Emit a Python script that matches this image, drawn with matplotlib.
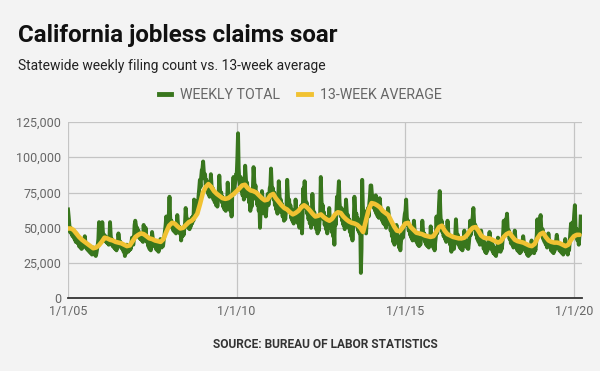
import numpy as np
import pandas as pd
import matplotlib
matplotlib.use("Agg")
import matplotlib.pyplot as plt
from matplotlib.lines import Line2D
from matplotlib.ticker import FuncFormatter

# ---- Data (weekly initial claims, thousands) ----
weekly_2005 = [63, 58, 52, 47, 50, 46, 48, 44, 47, 45, 42, 44, 40, 46, 42, 39, 41, 37, 40, 36, 38, 35, 39, 36, 38, 41,
               44, 39, 37, 35, 38, 34, 36, 33, 35, 32, 34, 31, 33, 36, 32, 31, 33, 30, 32, 35, 38, 42, 54, 46, 42, 45]
weekly_2006 = [44, 54, 47, 43, 45, 41, 44, 40, 43, 39, 42, 38, 41, 54, 45, 40, 42, 37, 40, 36, 39, 35, 38, 34, 37, 39,
               46, 42, 38, 40, 36, 38, 35, 37, 33, 36, 30, 34, 32, 38, 35, 33, 36, 34, 37, 35, 39, 43, 40, 38, 42, 52]
weekly_2007 = [55, 52, 47, 50, 45, 48, 43, 46, 42, 45, 41, 44, 40, 52, 46, 42, 50, 44, 40, 42, 37, 40, 35, 38, 34, 37,
               47, 43, 39, 41, 37, 39, 35, 38, 34, 36, 33, 35, 37, 42, 38, 36, 39, 37, 41, 44, 48, 52, 58, 50, 53, 56]
weekly_2008 = [60, 72, 58, 52, 55, 50, 53, 48, 52, 47, 51, 46, 50, 59, 53, 48, 51, 46, 49, 41, 47, 44, 49, 45, 50, 53,
               64, 58, 52, 56, 50, 55, 49, 54, 51, 57, 53, 58, 55, 70, 64, 60, 66, 63, 69, 66, 73, 78, 84, 79, 86, 91]
weekly_2009 = [92, 97, 90, 85, 88, 80, 84, 76, 82, 74, 79, 72, 77, 88, 80, 74, 78, 70, 75, 68, 73, 66, 71, 65, 70, 74,
               87, 78, 72, 75, 68, 72, 65, 70, 63, 68, 62, 66, 64, 82, 74, 68, 71, 62, 70, 58, 72, 78, 86, 74, 80, 84, 88]
weekly_2010 = [88, 100, 117, 92, 84, 80, 86, 76, 82, 73, 79, 70, 76, 94, 86, 78, 82, 72, 78, 68, 74, 62, 71, 65, 72, 78,
               93, 84, 76, 80, 70, 75, 66, 72, 62, 68, 50, 64, 60, 76, 70, 64, 68, 60, 66, 58, 64, 68, 74, 66, 70, 78]
weekly_2011 = [80, 92, 81, 74, 78, 70, 75, 66, 72, 63, 69, 60, 67, 83, 74, 66, 70, 61, 67, 58, 64, 55, 62, 56, 61, 66,
               84, 74, 66, 70, 61, 66, 57, 63, 55, 61, 53, 58, 56, 70, 63, 57, 60, 53, 58, 50, 56, 60, 66, 46, 62, 78]
weekly_2012 = [70, 83, 72, 64, 68, 60, 65, 56, 62, 53, 59, 50, 57, 74, 64, 57, 61, 52, 58, 49, 55, 46, 53, 48, 54, 60,
               86, 70, 62, 66, 56, 61, 52, 58, 49, 55, 46, 52, 50, 64, 56, 51, 54, 47, 52, 44, 50, 38, 58, 52, 60, 72]
weekly_2013 = [66, 74, 83, 68, 63, 58, 64, 55, 61, 52, 59, 49, 56, 70, 62, 55, 59, 50, 56, 47, 54, 44, 51, 41, 50, 56,
               72, 64, 56, 60, 51, 57, 48, 55, 46, 52, 18, 35, 84, 66, 58, 62, 50, 57, 46, 55, 60, 64, 58, 67, 72, 80]
weekly_2014 = [80, 74, 68, 72, 64, 70, 62, 73, 60, 67, 58, 64, 57, 71, 66, 59, 63, 55, 61, 53, 59, 52, 57, 50, 55, 58,
               64, 60, 53, 56, 48, 53, 44, 50, 40, 47, 38, 44, 42, 52, 46, 40, 44, 36, 42, 34, 40, 44, 50, 43, 48, 56, 60]
weekly_2015 = [62, 70, 58, 52, 55, 48, 52, 45, 50, 43, 48, 41, 46, 55, 49, 43, 46, 40, 44, 38, 43, 37, 42, 38, 43, 46,
               55, 49, 43, 46, 40, 44, 38, 42, 37, 41, 36, 40, 38, 51, 44, 39, 42, 36, 41, 34, 40, 44, 58, 46, 50, 56]
weekly_2016 = [68, 76, 60, 52, 55, 47, 51, 44, 49, 42, 47, 40, 45, 55, 48, 42, 45, 38, 43, 33, 41, 36, 40, 35, 41, 45,
               56, 48, 42, 45, 38, 42, 36, 40, 35, 39, 34, 38, 37, 48, 42, 38, 41, 36, 40, 35, 39, 44, 55, 45, 48, 54]
weekly_2017 = [58, 64, 55, 49, 52, 45, 49, 42, 47, 40, 45, 38, 43, 48, 44, 38, 42, 35, 40, 33, 38, 32, 37, 34, 39, 42,
               47, 42, 37, 40, 34, 38, 32, 36, 31, 35, 30, 34, 33, 43, 38, 34, 37, 33, 37, 35, 40, 46, 55, 44, 48, 56]
weekly_2018 = [54, 60, 50, 45, 48, 42, 46, 39, 44, 38, 42, 36, 41, 48, 42, 37, 40, 34, 39, 33, 37, 32, 36, 33, 37, 40,
               44, 40, 35, 38, 33, 36, 31, 35, 30, 34, 31, 34, 32, 41, 36, 33, 36, 32, 36, 34, 39, 45, 56, 44, 47, 54]
weekly_2019 = [56, 59, 50, 46, 49, 42, 46, 40, 44, 38, 42, 36, 41, 46, 42, 37, 40, 34, 39, 33, 37, 32, 36, 34, 38, 41,
               45, 41, 36, 39, 34, 37, 33, 36, 32, 35, 31, 34, 33, 42, 37, 33, 36, 31, 36, 34, 40, 45, 53, 44, 47, 54, 52]
weekly_2020 = [60, 66, 50, 46, 49, 41, 45, 38, 44, 46, 58]

# ---- 13-week average (thousands), first of each month Jan 2005 - Mar 2020 ----
avg_2005 = [49.5, 49.5, 48.5, 46, 43.5, 41.5, 40, 38.5, 37, 35.5, 36, 37.5]
avg_2006 = [40, 43, 42.5, 41.5, 41, 40, 39.5, 39, 38, 37, 37.5, 40.5]
avg_2007 = [43.5, 45, 46, 45.5, 44, 42.5, 42, 41, 40.5, 40, 42, 47]
avg_2008 = [51.5, 53.5, 53, 51, 49.5, 50, 52, 54, 55, 57, 60, 67]
avg_2009 = [75, 79, 81, 79, 76, 74, 72.5, 71, 70.5, 71, 72.5, 74]
avg_2010 = [76, 78, 80, 80.5, 78, 76.5, 76, 75, 73, 71, 69.5, 70]
avg_2011 = [73, 74, 71, 68.5, 66, 64, 63, 61, 59.5, 60.5, 62, 64.5]
avg_2012 = [66, 64.5, 62.5, 60, 58, 58.5, 59.5, 57.5, 56, 55, 56.5, 59.5]
avg_2013 = [61, 60.5, 58, 56, 54.5, 53.5, 53, 52, 50, 47, 55, 63]
avg_2014 = [67.5, 67, 66, 64.5, 62, 60.5, 59, 55, 51, 48, 47.5, 50]
avg_2015 = [53, 53.5, 50.5, 48.5, 46.5, 46, 45.5, 44.5, 44, 43.5, 44, 47]
avg_2016 = [50.5, 51.5, 48, 45.5, 44.5, 43.5, 43, 42.5, 42.5, 43, 45, 48]
avg_2017 = [50, 50.5, 48, 44.5, 43, 42.5, 42.5, 41.5, 40.5, 39.5, 40.5, 43.5]
avg_2018 = [45.5, 46.5, 44, 41.5, 40.5, 40, 39.5, 38.5, 37.5, 37, 38.5, 42.5]
avg_2019 = [45.5, 46.5, 43.5, 41, 40, 39.5, 39.5, 39, 38, 37, 38, 41.5]
avg_2020 = [44, 45, 45]

x_tick_labels = ["1/1/05", "1/1/10", "1/1/15", "1/1/20"]
x_tick_dates = ["2005-01-01", "2010-01-01", "2015-01-01", "2020-01-01"]
y_ticks = [0, 25000, 50000, 75000, 100000, 125000]
series_names = ["WEEKLY TOTAL", "13-WEEK AVERAGE"]

weekly_k = (weekly_2005 + weekly_2006 + weekly_2007 + weekly_2008 + weekly_2009 + weekly_2010 +
            weekly_2011 + weekly_2012 + weekly_2013 + weekly_2014 + weekly_2015 + weekly_2016 +
            weekly_2017 + weekly_2018 + weekly_2019 + weekly_2020)
avg_k = (avg_2005 + avg_2006 + avg_2007 + avg_2008 + avg_2009 + avg_2010 + avg_2011 + avg_2012 +
         avg_2013 + avg_2014 + avg_2015 + avg_2016 + avg_2017 + avg_2018 + avg_2019 + avg_2020)

weekly_dates = pd.date_range("2005-01-01", periods=len(weekly_k), freq="7D")
avg_dates = pd.date_range("2005-01-01", periods=len(avg_k), freq="MS")
weekly_vals = np.array(weekly_k) * 1000
avg_vals = np.array(avg_k) * 1000

# ---- Style ----
BG = "#f3f3f3"
GREEN = "#38761d"
YELLOW = "#f1c232"
GRID = "#c4c4c4"
TXT = "#666666"
plt.rcParams["font.family"] = ["Roboto", "DejaVu Sans"]

W, H = 600, 371
fig = plt.figure(figsize=(W / 100, H / 100), dpi=100, facecolor=BG)
ax = fig.add_axes([68 / W, 1 - 298.3 / H, (582 - 68) / W, (298.3 - 122) / H], facecolor=BG)

ax.plot(weekly_dates, weekly_vals, color=GREEN, lw=2.8, solid_joinstyle="round", zorder=3)
ax.plot(avg_dates, avg_vals, color=YELLOW, lw=3.3, solid_joinstyle="round",
        solid_capstyle="round", zorder=4)

ax.set_xlim(pd.Timestamp("2005-01-01"), pd.Timestamp("2020-03-28"))
ax.set_ylim(0, 125000)
ax.set_xticks(pd.to_datetime(x_tick_dates))
ax.set_xticklabels(x_tick_labels)
ax.set_yticks(y_ticks)
ax.yaxis.set_major_formatter(FuncFormatter(lambda v, p: f"{int(v):,}"))
ax.tick_params(axis="both", length=0, labelsize=9, labelcolor=TXT)
ax.tick_params(axis="y", pad=5)
ax.tick_params(axis="x", pad=5)
ax.grid(True, color=GRID, lw=0.9, zorder=0)
ax.set_axisbelow(True)
for s in ["top", "right", "left"]:
    ax.spines[s].set_visible(False)
ax.spines["bottom"].set_color("#333333")
ax.spines["bottom"].set_linewidth(1.3)
ax.spines["bottom"].set_zorder(5)

fig.text(18 / W, 1 - 42 / H, "California jobless claims soar", fontsize=17.4,
         fontweight="bold", color="#111111", va="baseline", ha="left")
fig.text(18 / W, 1 - 70 / H, "Statewide weekly filing count vs. 13-week average",
         fontsize=10.0, color="#222222", va="baseline", ha="left")

handles = [Line2D([0], [0], color=GREEN, lw=3.5), Line2D([0], [0], color=YELLOW, lw=3.5)]
fig.legend(handles, series_names, loc="center", bbox_to_anchor=(300 / W, 1 - 95 / H), ncol=2,
           frameon=False, fontsize=10.2, labelcolor=TXT, handlelength=0.9, handletextpad=0.6,
           columnspacing=1.3)

fig.text(325 / W, 1 - 345 / H, "SOURCE: BUREAU OF LABOR STATISTICS", fontsize=8.6,
         fontweight="bold", color="#333333", va="center", ha="center")

fig.savefig("out.png", dpi=100, facecolor=BG)
